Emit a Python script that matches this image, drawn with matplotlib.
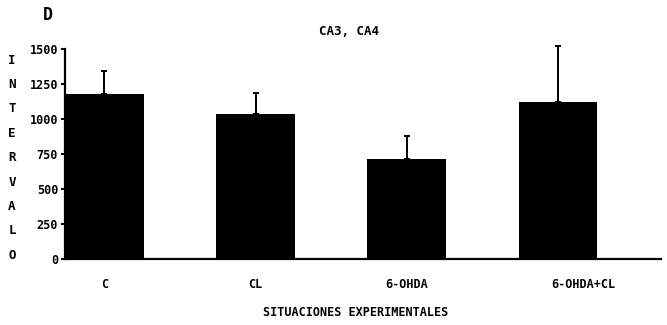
import matplotlib
matplotlib.use("Agg")
import matplotlib.pyplot as plt
import matplotlib.transforms as mtransforms
import numpy as np

groups = ["C", "CL", "6-OHDA", "6-OHDA+CL"]
means = [1180, 1035, 715, 1120]
sem = [165, 150, 165, 400]
yticks = [0, 250, 500, 750, 1000, 1250, 1500]
ylabel_letters = list("INTERVALO")

plt.rcParams["font.family"] = "DejaVu Sans Mono"
plt.rcParams["font.weight"] = "bold"

fig = plt.figure(figsize=(6.67, 3.25), dpi=100)
ax = fig.add_axes([0.0975, 0.203, 0.893, 0.646])

x = np.arange(len(groups))
ax.bar(x, means, width=0.52, color="black", zorder=2)
err = ax.errorbar(x, means, yerr=[np.zeros(len(sem)), sem], fmt="none",
                  ecolor="black", elinewidth=1.4, capsize=2, capthick=1.4, zorder=1)
for artist in err.lines[1] + err.lines[2]:
    artist.set_clip_on(False)

ax.set_xlim(-0.26, 3.68)
ax.set_ylim(0, 1500)
ax.set_yticks(yticks)
ax.set_yticklabels([str(t) for t in yticks], fontsize=8.5, fontweight="bold")
ax.set_xticks(x)
ax.set_xticklabels(groups, fontsize=8.5, fontweight="bold")
ax.tick_params(axis="x", length=0, pad=14)
ax.tick_params(axis="y", length=3, width=1.4, pad=2)

# last label sits a bit right of its bar in the original
lab = ax.get_xticklabels()[-1]
lab.set_transform(lab.get_transform() +
                  mtransforms.ScaledTranslation(0.25, 0, fig.dpi_scale_trans))

for s in ["top", "right"]:
    ax.spines[s].set_visible(False)
ax.spines["left"].set_linewidth(1.6)
ax.spines["bottom"].set_linewidth(1.6)

ax.set_title("CA3, CA4", fontsize=9, fontweight="bold", pad=10, x=0.477)

# vertical stacked y label
for i, ch in enumerate(ylabel_letters):
    fig.text(0.018, 1 - (60 + i * 24.4) / 325, ch, fontsize=9, fontweight="bold",
             ha="center", va="center")

fig.text(0.533, 1 - 312 / 325, "SITUACIONES EXPERIMENTALES", fontsize=8.5,
         fontweight="bold", ha="center", va="center")
fig.text(0.072, 1 - 15 / 325, "D", fontsize=12, fontweight="bold",
         ha="center", va="center")

fig.savefig("out.png", dpi=100)
